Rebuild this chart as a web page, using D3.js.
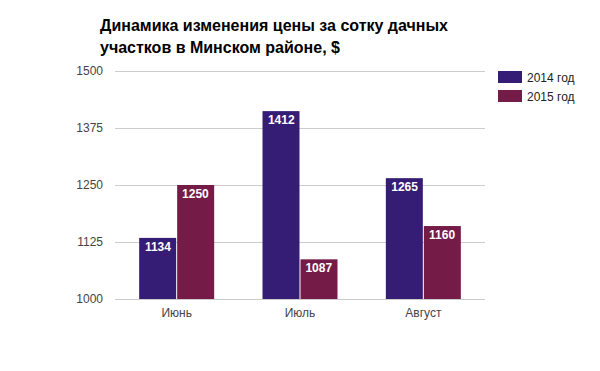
<!DOCTYPE html>
<html>
<head>
<meta charset="utf-8">
<script src="https://cdn.jsdelivr.net/npm/d3@7"></script>
<style>
  body { margin: 0; background: #fff; }
  svg { font-family: "Liberation Sans", Arial, sans-serif; }
</style>
</head>
<body>
<div id="chart"></div>
<script>
var months = ['Июнь', 'Июль', 'Август'];
var seriesNames = ['2014 год', '2015 год'];
var values2014 = [1134, 1412, 1265];
var values2015 = [1250, 1087, 1160];
var yTicks = [1000, 1125, 1250, 1375, 1500];
var colors = ['#351c75', '#741b47'];

var width = 600, height = 371;
var plotLeft = 115, plotRight = 485, plotTop = 71, plotBottom = 299;

var svg = d3.select('#chart').append('svg')
   .attr('width', width)
   .attr('height', height);

// title, two lines
var title = svg.append('text')
   .attr('x', 100)
   .attr('font-size', 16)
   .attr('font-weight', 'bold')
   .attr('fill', '#000');
title.append('tspan').attr('x', 100).attr('y', 31).text('Динамика изменения цены за сотку дачных');
title.append('tspan').attr('x', 100).attr('y', 53).text('участков в Минском районе, $');

var x = d3.scaleBand()
   .domain(months)
   .range([plotLeft, plotRight])
   .paddingInner(0.392)
   .paddingOuter(0.196);

var x1 = d3.scaleBand()
   .domain([0, 1])
   .range([0, x.bandwidth()]);

var y = d3.scaleLinear()
   .domain([1000, 1500])
   .range([plotBottom, plotTop]);

// gridlines
svg.append('g').selectAll('line')
   .data(yTicks)
   .enter().append('line')
   .attr('x1', plotLeft)
   .attr('x2', plotRight)
   .attr('y1', function(d) { return Math.round(y(d)) + 0.5; })
   .attr('y2', function(d) { return Math.round(y(d)) + 0.5; })
   .attr('stroke', '#cccccc')
   .attr('stroke-width', 1);

// y labels
svg.append('g').selectAll('text')
   .data(yTicks)
   .enter().append('text')
   .attr('x', 103)
   .attr('y', function(d) { return y(d) + 4; })
   .attr('text-anchor', 'end')
   .attr('font-size', 12)
   .attr('fill', '#444')
   .text(function(d) { return d; });

// x labels
svg.append('g').selectAll('text')
   .data(months)
   .enter().append('text')
   .attr('x', function(d) { return x(d) + x.bandwidth() / 2; })
   .attr('y', 317)
   .attr('text-anchor', 'middle')
   .attr('font-size', 12)
   .attr('fill', '#444')
   .text(function(d) { return d; });

var data = [];
months.forEach(function(m, i) {
   data.push({ month: m, s: 0, value: values2014[i] });
   data.push({ month: m, s: 1, value: values2015[i] });
});

var bars = svg.append('g').selectAll('g')
   .data(data)
   .enter().append('g');

bars.append('rect')
   .attr('x', function(d) { return x(d.month) + x1(d.s) + (d.s ? 0.5 : 0); })
   .attr('width', x1.bandwidth() - 0.5)
   .attr('y', function(d) { return y(d.value); })
   .attr('height', function(d) { return y(1000) - y(d.value); })
   .attr('fill', function(d) { return colors[d.s]; });

bars.append('text')
   .attr('x', function(d) { return x(d.month) + x1(d.s) + x1.bandwidth() / 2; })
   .attr('y', function(d) { return y(d.value) + 13; })
   .attr('text-anchor', 'middle')
   .attr('font-size', 12)
   .attr('font-weight', 'bold')
   .attr('fill', '#fff')
   .text(function(d) { return d.value; });

// legend
var legend = svg.append('g').selectAll('g')
   .data(seriesNames)
   .enter().append('g')
   .attr('transform', function(d, i) { return 'translate(498,' + (71 + i * 19) + ')'; });

legend.append('rect')
   .attr('width', 24)
   .attr('height', 12)
   .attr('fill', function(d, i) { return colors[i]; });

legend.append('text')
   .attr('x', 29)
   .attr('y', 10.5)
   .attr('font-size', 12)
   .attr('fill', '#222')
   .text(function(d) { return d; });
</script>
</body>
</html>
